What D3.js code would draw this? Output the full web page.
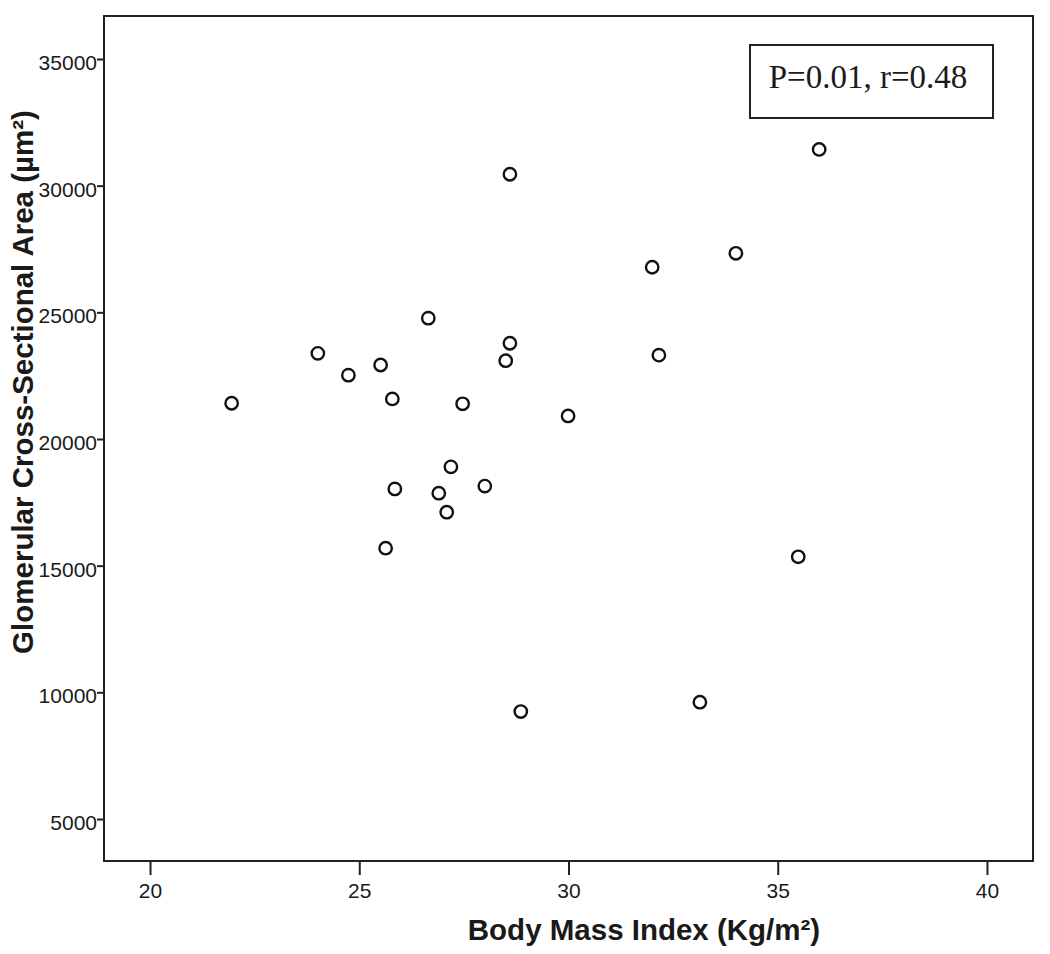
<!DOCTYPE html>
<html lang="en">
<head>
	<meta charset="utf-8">
	<script src="https://d3js.org/d3.v7.min.js"></script>
	<style type="text/css">
		body { margin: 0; background: #fff; }
		.axis text { font: 21px "Liberation Sans", Arial, sans-serif; fill: #1a1a1a; }
		.axis line { stroke: #222; stroke-width: 2px; }
		.axis path { display: none; }
		.title { font: bold 29.5px "Liberation Sans", Arial, sans-serif; fill: #1a1a1a; }
		.dot { fill: none; stroke: #111; stroke-width: 2.4px; }
	</style>
	<title>BMI vs glomerular area</title>
</head>
<body>
<svg id="chart" width="1050" height="954"></svg>
<script type="text/javascript">

	// body mass index (Kg/m2) per subject
	var bmi = [21.95, 24.01, 24.74, 25.51, 25.79, 25.85, 25.63, 26.65, 26.90, 27.19, 27.09, 27.47,
		28.00, 28.50, 28.60, 28.60, 28.86, 29.99, 32.00, 32.16, 33.14, 34.00, 35.49, 35.99];
	// glomerular cross-sectional area (um2) per subject
	var area = [21410, 23380, 22520, 22920, 21580, 18030, 15690, 24770, 17860, 18900, 17110, 21390,
		18140, 23090, 23780, 30450, 9240, 20910, 26780, 23310, 9610, 27330, 15350, 31430];

	var xTicks = [20, 25, 30, 35, 40];
	var yTicks = [5000, 10000, 15000, 20000, 25000, 30000, 35000];
	var statLabel = "P=0.01, r=0.48";

	var svg = d3.select("#chart");
	var plotL = 104, plotR = 1033, plotT = 16, plotB = 861;

	var x = d3.scaleLinear().domain([18.9, 41.1]).range([plotL, plotR]);
	var y = d3.scaleLinear().domain([3342, 36697]).range([plotB, plotT]);

	// frame
	svg.append("rect")
		.attr("x", plotL).attr("y", plotT)
		.attr("width", plotR - plotL).attr("height", plotB - plotT)
		.attr("fill", "none").attr("stroke", "#222").attr("stroke-width", 2);

	// x axis
	var gx = svg.append("g")
		.attr("class", "axis")
		.attr("transform", "translate(0," + plotB + ")")
		.call(d3.axisBottom(x).tickValues(xTicks).tickSize(14).tickFormat(d3.format("d")));
	gx.selectAll("text").attr("y", 37).attr("dy", 0);

	// y axis
	var gy = svg.append("g")
		.attr("class", "axis")
		.attr("transform", "translate(" + plotL + ",0)")
		.call(d3.axisLeft(y).tickValues(yTicks).tickSize(7).tickPadding(0).tickFormat(d3.format("d")));
	gy.selectAll("text").attr("dy", "0.5em");

	// points
	svg.selectAll(".dot")
		.data(bmi)
		.enter().append("circle")
		.attr("class", "dot")
		.attr("cx", function(d) { return x(d); })
		.attr("cy", function(d, i) { return y(area[i]); })
		.attr("r", 6.2);

	// stats box
	svg.append("rect")
		.attr("x", 750).attr("y", 45)
		.attr("width", 243).attr("height", 73)
		.attr("fill", "#fff").attr("stroke", "#222").attr("stroke-width", 2);
	svg.append("text")
		.attr("x", 868).attr("y", 88)
		.attr("text-anchor", "middle")
		.style("font", "33px 'Liberation Serif', 'Times New Roman', serif")
		.style("fill", "#1a1a1a")
		.text(statLabel);

	// axis titles
	svg.append("text")
		.attr("class", "title")
		.attr("x", 644).attr("y", 940)
		.attr("text-anchor", "middle")
		.text("Body Mass Index (Kg/m²)");

	svg.append("text")
		.attr("class", "title")
		.attr("transform", "translate(33,382) rotate(-90)")
		.attr("text-anchor", "middle")
		.text("Glomerular Cross-Sectional Area (µm²)");

</script>
</body>
</html>
